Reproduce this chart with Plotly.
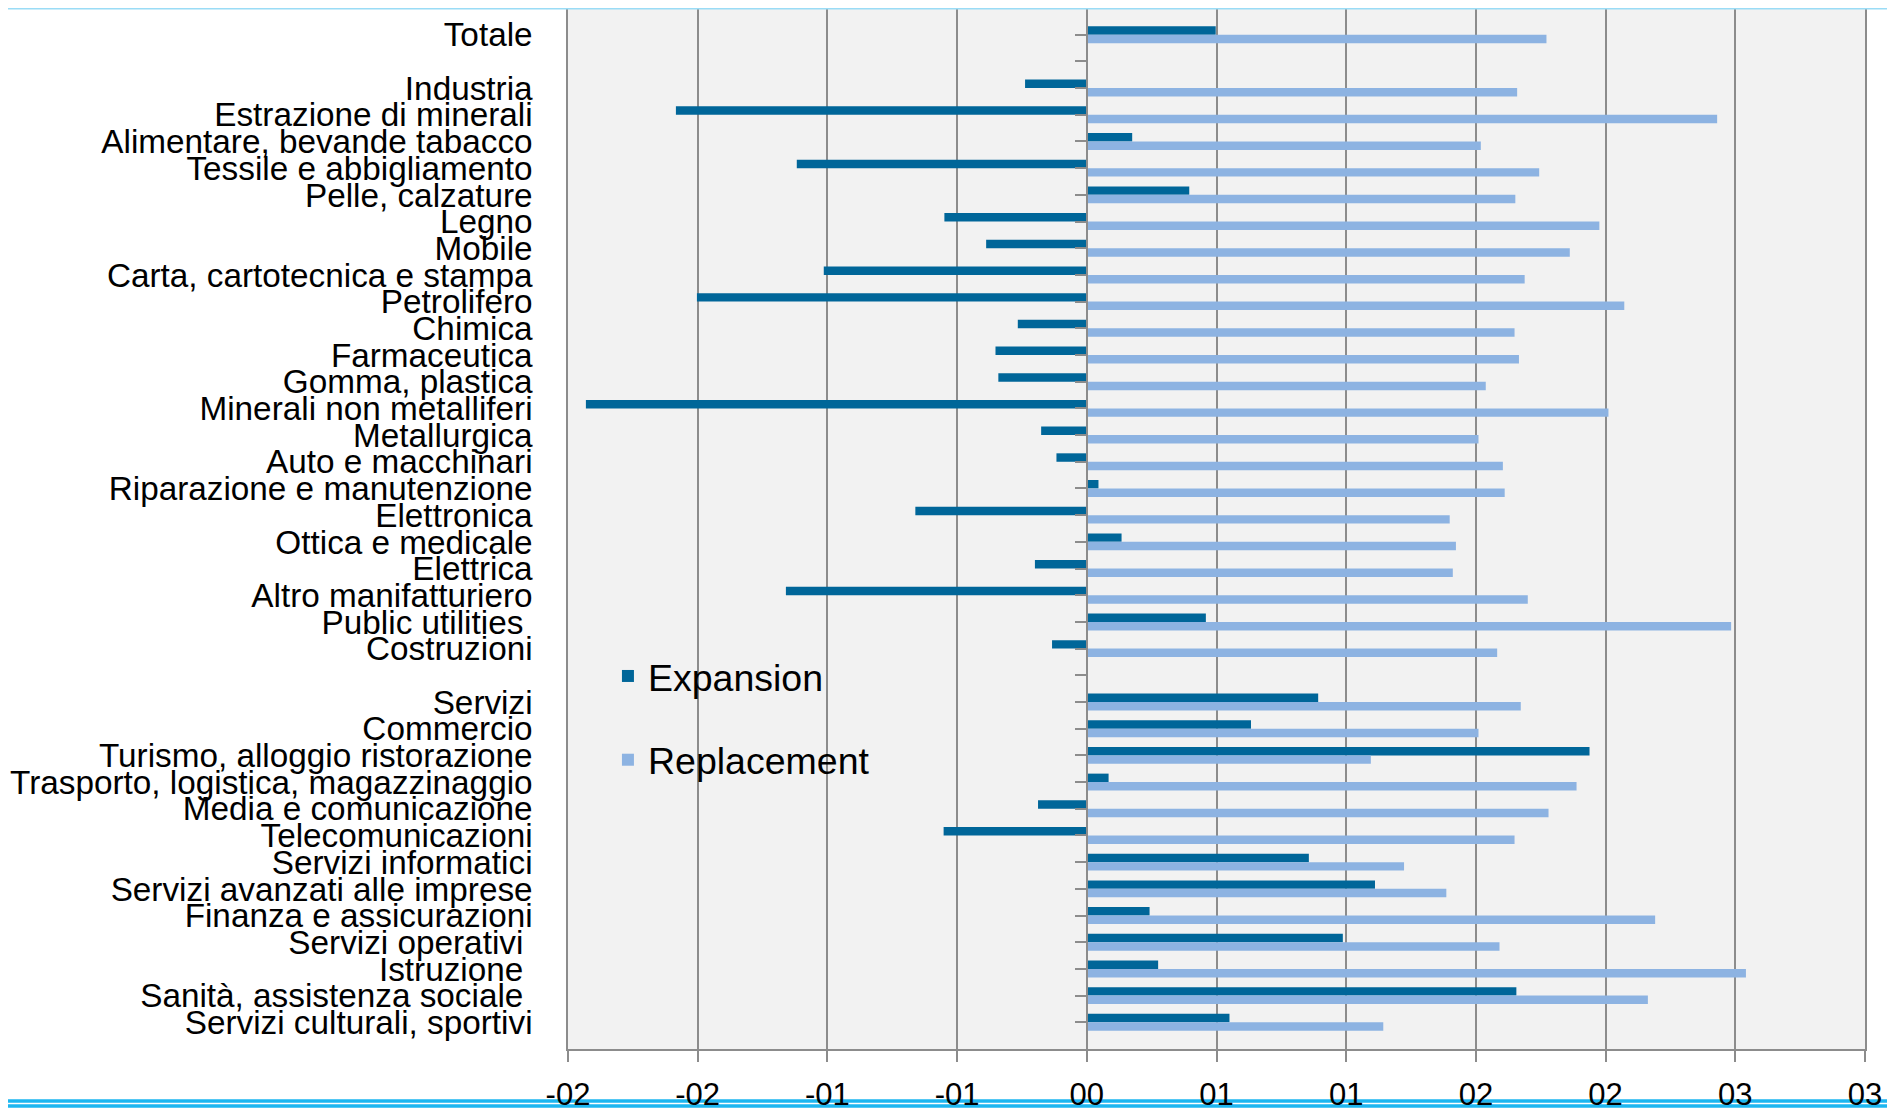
import plotly.graph_objects as go

categories = [
    "Totale", " ", "Industria", "Estrazione di minerali", "Alimentare, bevande tabacco",
    "Tessile e abbigliamento", "Pelle, calzature", "Legno", "Mobile",
    "Carta, cartotecnica e stampa", "Petrolifero", "Chimica", "Farmaceutica",
    "Gomma, plastica", "Minerali non metalliferi", "Metallurgica", "Auto e macchinari",
    "Riparazione e manutenzione", "Elettronica", "Ottica e medicale", "Elettrica",
    "Altro manifatturiero", "Public utilities\u00a0", "Costruzioni", "  ", "Servizi",
    "Commercio", "Turismo, alloggio ristorazione", "Trasporto, logistica, magazzinaggio",
    "Media e comunicazione", "Telecomunicazioni", "Servizi informatici",
    "Servizi avanzati alle imprese", "Finanza e assicurazioni", "Servizi operativi\u00a0",
    "Istruzione\u00a0", "Sanità, assistenza sociale\u00a0", "Servizi culturali, sportivi",
]

expansion = [
    0.00497, None, -0.00238, -0.01584, 0.00175, -0.01118, 0.00395, -0.00549, -0.00388,
    -0.01014, -0.01503, -0.00266, -0.00352, -0.00341, -0.01931, -0.00176, -0.00117,
    0.00045, -0.00661, 0.00134, -0.00200, -0.01160, 0.00459, -0.00134, None, 0.00892,
    0.00633, 0.01938, 0.00084, -0.00188, -0.00552, 0.00856, 0.01111, 0.00242, 0.00987,
    0.00275, 0.01656, 0.00550,
]

replacement = [
    0.01772, None, 0.01659, 0.02430, 0.01519, 0.01744, 0.01652, 0.01976, 0.01862,
    0.01688, 0.02072, 0.01649, 0.01666, 0.01538, 0.02011, 0.01510, 0.01604,
    0.01611, 0.01399, 0.01423, 0.01411, 0.01700, 0.02484, 0.01582, None, 0.01673,
    0.01510, 0.01095, 0.01888, 0.01780, 0.01649, 0.01223, 0.01386, 0.02191, 0.01591,
    0.02541, 0.02163, 0.01143,
]

x_tickvals = [-0.02, -0.015, -0.01, -0.005, 0.0, 0.005, 0.01, 0.015, 0.02, 0.025, 0.03]
x_ticktext = ["-02", "-02", "-01", "-01", "00", "01", "01", "02", "02", "03", "03"]

FONT = "Liberation Sans"
GRID = "#8C8C8C"
n = len(categories)

fig = go.Figure()
fig.add_trace(go.Bar(
    x=expansion, y=categories, orientation="h", name="Expansion",
    marker=dict(color="#006699", line=dict(width=0)), legendgroup="a",
))
fig.add_trace(go.Bar(
    x=replacement, y=categories, orientation="h", name="Replacement",
    marker=dict(color="#8DB3E2", line=dict(width=0)), legendgroup="b",
))
# carrier for the category axis drawn along the zero line (no data of its own)
fig.add_trace(go.Scatter(
    x=[], y=[], yaxis="y2", showlegend=False, hoverinfo="skip", mode="markers",
))

fig.update_layout(
    width=1895, height=1106,
    margin=dict(l=560, r=38, t=0, b=65, autoexpand=False),
    paper_bgcolor="white",
    plot_bgcolor="#F2F2F2",
    barmode="group",
    bargap=0.366,
    bargroupgap=0,
    font=dict(family=FONT, color="black", size=33.3),
    legend=dict(
        x=0.0308, y=0.388, xanchor="left", yanchor="top",
        bgcolor="rgba(0,0,0,0)", font=dict(size=37.5, family=FONT),
        traceorder="grouped", tracegroupgap=32,
    ),
    xaxis=dict(
        range=[-0.02, 0.03], tickvals=x_tickvals, ticktext=x_ticktext,
        showgrid=True, gridcolor=GRID, gridwidth=1.5,
        zeroline=False, showline=True, linecolor=GRID, linewidth=2,
        ticks="outside", ticklen=11, tickcolor=GRID, tickwidth=1.5,
        tickfont=dict(size=31, family=FONT), ticklabelstandoff=6,
        fixedrange=True, automargin=False,
    ),
    yaxis=dict(
        type="category", categoryorder="array", categoryarray=categories,
        tickmode="array", tickvals=categories, ticktext=categories,
        range=[n, -1], showgrid=False, zeroline=False,
        showline=True, mirror=True, linecolor=GRID, linewidth=1.5,
        ticks="", tickfont=dict(size=33.3, family=FONT), ticklabelstandoff=27,
        automargin=False,
    ),
    yaxis2=dict(
        type="linear", overlaying="y", anchor="free", position=0.4,
        side="left", range=[n, -1], tickmode="array", tickvals=list(range(-1, n)),
        showticklabels=False, ticks="outside", ticklen=11, tickcolor=GRID,
        tickwidth=1.5, showline=True, linecolor=GRID, linewidth=2,
        showgrid=False, zeroline=False, automargin=False,
    ),
    shapes=[
        dict(type="line", xref="paper", yref="paper", x0=-0.44, x1=1.03,
             y0=-0.0500, y1=-0.0500, line=dict(color="#1DB6F0", width=3.5), layer="below"),
        dict(type="line", xref="paper", yref="paper", x0=-0.44, x1=1.03,
             y0=-0.0548, y1=-0.0548, line=dict(color="#1DB6F0", width=3.5), layer="below"),
        dict(type="line", xref="paper", yref="paper", x0=-0.44, x1=1.03,
             y0=0.9995, y1=0.9995, line=dict(color="#9ADCF6", width=2), layer="above"),
    ],
)

fig.write_html("out.html")
